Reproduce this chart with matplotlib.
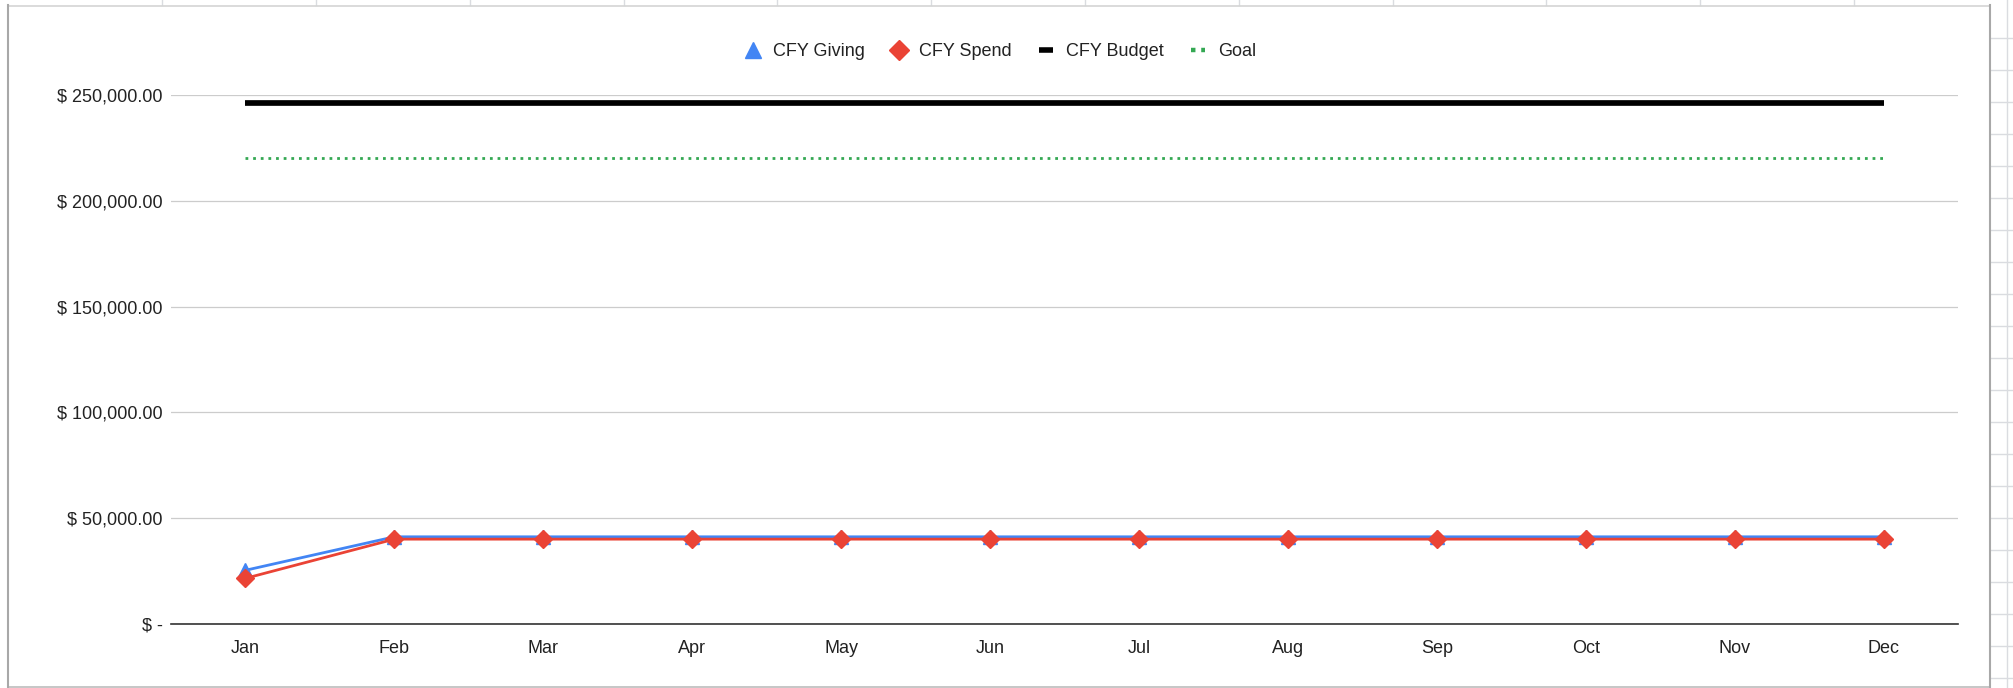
import matplotlib
matplotlib.use("Agg")
import matplotlib.pyplot as plt
from matplotlib.lines import Line2D
from matplotlib.ticker import FuncFormatter

plt.rcParams['font.family'] = ['Liberation Sans', 'DejaVu Sans']

months = ['Jan', 'Feb', 'Mar', 'Apr', 'May', 'Jun',
          'Jul', 'Aug', 'Sep', 'Oct', 'Nov', 'Dec']
giving = [25500, 41300, 41300, 41300, 41300, 41300,
          41300, 41300, 41300, 41300, 41300, 41300]
spend = [21700, 40200, 40200, 40200, 40200, 40200,
         40200, 40200, 40200, 40200, 40200, 40200]
budget = [246000, 246000, 246000, 246000, 246000, 246000,
          246000, 246000, 246000, 246000, 246000, 246000]
goal = [220000, 220000, 220000, 220000, 220000, 220000,
        220000, 220000, 220000, 220000, 220000, 220000]
yticks = [0, 50000, 100000, 150000, 200000, 250000]

BLUE = '#4285f4'
RED = '#ea4335'
GREEN = '#34a853'

W, H = 2013, 688
fig = plt.figure(figsize=(W / 100, H / 100), dpi=100)
fig.patch.set_facecolor('white')


def fx(px):
    return px / W


def fy(py):
    # pixel rows counted from the top
    return 1 - py / H


def seg(x0, y0, x1, y1, **kw):
    fig.add_artist(Line2D([fx(x0), fx(x1)], [fy(y0), fy(y1)], **kw))


# spreadsheet cells peeking around the chart
cell = '#dadce0'
for x in [162, 316, 470, 624, 777, 931, 1085, 1239, 1393, 1546, 1700, 1854]:
    seg(x, 0, x, 5, color=cell, lw=1)
seg(2007, 0, 2007, 688, color=cell, lw=1)
y = 38
while y < H:
    seg(1991, y, 2013, y, color=cell, lw=1)
    y += 32

# chart frame
seg(8, 5.7, 1990, 5.7, color='#d4d4d4', lw=1.2)
seg(8, 686.7, 1990, 686.7, color='#bcbcbc', lw=1.2)
seg(8.3, 5, 8.3, 688, color='#a8a8a8', lw=1.5)
seg(1990, 5, 1990, 688, color='#a8a8a8', lw=1.5)

ax = fig.add_axes([fx(171), fy(624.3), fx(1958 - 171), (624.3 - 94.7) / H])
x = list(range(len(months)))

ax.plot(x, giving, color=BLUE, lw=2, marker='^', ms=10, zorder=3)
ax.plot(x, spend, color=RED, lw=2, marker='D', ms=9.5, zorder=4)
ax.plot(x, budget, color='black', lw=4.1, solid_capstyle='butt', zorder=3)
ax.plot(x, goal, color=GREEN, lw=2, dashes=(1.0, 1.75), zorder=3)

ax.set_xlim(-0.5, len(months) - 0.5)
ax.set_ylim(0, 250000)
ax.set_xticks(x)
ax.set_xticklabels(months)
ax.set_yticks(yticks)
ax.yaxis.set_major_formatter(FuncFormatter(
    lambda v, p: '$ -' if v == 0 else '$ {:,.2f}'.format(v)))

ax.grid(axis='y', color='#cccccc', lw=0.9)
ax.set_axisbelow(True)
for s in ['top', 'right', 'left']:
    ax.spines[s].set_visible(False)
ax.spines['bottom'].set_color('#333333')
ax.spines['bottom'].set_linewidth(1.2)
ax.spines['bottom'].set_zorder(5)
ax.tick_params(axis='both', length=0, labelsize=13, colors='#222222')
ax.tick_params(axis='y', pad=6)
ax.tick_params(axis='x', pad=11)

handles = [
    Line2D([], [], color=BLUE, marker='^', ls='none', ms=11),
    Line2D([], [], color=RED, marker='D', ls='none', ms=10),
    Line2D([], [], color='black', lw=4, solid_capstyle='butt'),
    Line2D([], [], color=GREEN, lw=3.2, dashes=(1, 1.3)),
]
fig.legend(handles, ['CFY Giving', 'CFY Spend', 'CFY Budget', 'Goal'],
           loc='center', bbox_to_anchor=(fx(1001), fy(52)), ncol=4,
           frameon=False, fontsize=13, handlelength=0.8, handletextpad=0.7,
           columnspacing=1.5, labelcolor='#222222')

fig.savefig('out.png', dpi=100, facecolor='white')
